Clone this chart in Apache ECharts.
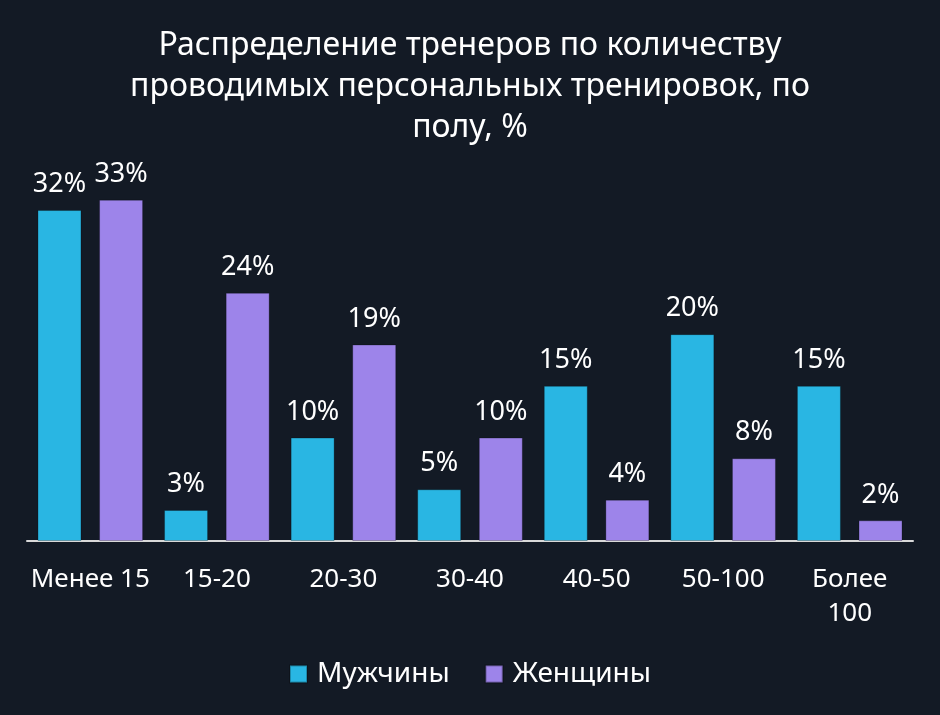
<!DOCTYPE html>
<html>
<head>
<meta charset="utf-8">
<script src="https://cdn.jsdelivr.net/npm/echarts@6/dist/echarts.min.js"></script>
<style>
	html, body { margin: 0; padding: 0; background: #131a25; }
	#chart { width: 940px; height: 715px; }
</style>
</head>
<body>
<div id="chart"></div>
<script>
	// данные
	const categories = ['Менее 15', '15-20', '20-30', '30-40', '40-50', '50-100', 'Более\n100'];
	const men = [32, 3, 10, 5, 15, 20, 15];
	const women = [33, 24, 19, 10, 4, 8, 2];
	const seriesNames = ['Мужчины', 'Женщины'];

	const font = '"Noto Sans", "Open Sans", sans-serif';

	const chart = echarts.init(document.getElementById('chart'));

	const barSeries = function (name, data, color) {
		return {
			name: name,
			type: 'bar',
			data: data,
			barWidth: 44,
			barGap: '40%',
			itemStyle: {
				color: color,
				borderColor: 'rgba(0,0,0,0.25)',
				borderWidth: 1
			},
			label: {
				show: true,
				position: 'top',
				distance: 12,
				color: '#ffffff',
				fontFamily: font,
				fontSize: 27,
				formatter: '{c}%'
			}
		};
	};

	chart.setOption({
		backgroundColor: '#131a25',
		title: {
			text: 'Распределение тренеров по количеству\nпроводимых персональных тренировок, по\nполу, %',
			left: 'center',
			top: 20,
			textStyle: {
				color: '#ffffff',
				fontFamily: font,
				fontWeight: 'normal',
				fontSize: 32,
				lineHeight: 41
			}
		},
		legend: {
			bottom: 22,
			left: 'center',
			icon: 'rect',
			itemWidth: 17,
			itemHeight: 17,
			itemGap: 35,
			data: seriesNames,
			textStyle: {
				color: '#ffffff',
				fontFamily: font,
				fontSize: 28,
				padding: [0, 0, 0, 5]
			}
		},
		grid: {
			left: 27,
			right: 27,
			top: 179,
			bottom: 174,
			containLabel: false
		},
		xAxis: {
			type: 'category',
			data: categories,
			axisTick: { show: false },
			axisLine: {
				lineStyle: { color: '#d9d9d9', width: 2 }
			},
			axisLabel: {
				color: '#ffffff',
				fontFamily: font,
				fontSize: 26,
				lineHeight: 34,
				margin: 22,
				interval: 0
			}
		},
		yAxis: {
			type: 'value',
			min: 0,
			max: 35,
			show: false,
			splitLine: { show: false }
		},
		series: [
			barSeries(seriesNames[0], men, '#29b6e3'),
			barSeries(seriesNames[1], women, '#9d84ea')
		]
	});
</script>
</body>
</html>
